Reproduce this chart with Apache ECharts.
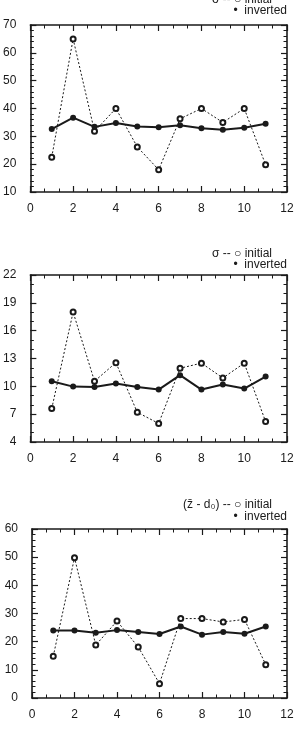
<html>
<head>
    <script src="https://cdnjs.cloudflare.com/ajax/libs/echarts/6.0.0/echarts.min.js"></script>
    <style>
        html, body { margin: 0; padding: 0; background: #fff; }
    </style>
</head>
<body>
    <div id="main" style="width: 298px;height:731px;"></div>
    <script>
        // x positions (index 1..11)
        var xs = [1, 2, 3, 4, 5, 6, 7, 8, 9, 10, 11];

        // panel 1
        var p1Initial = [22.5, 65, 31.8, 40, 26.2, 18, 36.3, 40, 35, 40, 19.8];
        var p1Inverted = [32.6, 36.7, 33.4, 34.8, 33.5, 33.3, 34, 32.9, 32.4, 33.1, 34.5];
        // panel 2 : sigma
        var p2Initial = [7.6, 18, 10.55, 12.55, 7.2, 6, 11.95, 12.5, 10.9, 12.5, 6.2];
        var p2Inverted = [10.55, 9.97, 9.94, 10.3, 9.94, 9.65, 11.2, 9.65, 10.2, 9.76, 11.05];
        // panel 3 : (z - d0)
        var p3Initial = [14.8, 49.8, 18.8, 27.3, 18.1, 5.1, 28.2, 28.2, 27, 27.9, 11.8];
        var p3Inverted = [24, 24, 23.2, 24.1, 23.4, 22.7, 25.4, 22.5, 23.4, 22.8, 25.4];

        var yRanges = [[10, 70, 10, 5], [4, 22, 3, 3], [0, 60, 10, 5]];
        var legendInitial = ['σ -- ○ initial', 'σ -- ○ initial', '(z̄ - d₀) -- ○ initial'];
        var legendInverted = '•  inverted';

        var ink = '#1a1a1a';
        var font = 'Liberation Sans, Arial, sans-serif';

        var grids = [
            { left: 29, top: 25, width: 258, height: 167 },
            { left: 30, top: 275, width: 257, height: 167 },
            { left: 32, top: 529, width: 255, height: 169 }
        ];
        var initialTops = [-6, 248, 499];
        var invertedTops = [5, 259, 511];

        function pairs(arr) {
            return xs.map(function (x, i) { return [x, arr[i]]; });
        }

        var xAxis = [], yAxis = [], series = [], titles = [];
        var dataSets = [[p1Initial, p1Inverted], [p2Initial, p2Inverted], [p3Initial, p3Inverted]];

        grids.forEach(function (g, i) {
            function axis(extra, split) {
                return Object.assign({
                    gridIndex: i,
                    type: 'value',
                    axisLine: { show: true, onZero: false, lineStyle: { color: ink, width: 1.6 } },
                    axisTick: { show: true, inside: true, length: 6, lineStyle: { color: ink, width: 1.2 } },
                    minorTick: { show: true, splitNumber: split, length: 3.5, lineStyle: { color: ink, width: 1 } },
                    splitLine: { show: false }
                }, extra);
            }
            var lbl = { color: ink, fontSize: 12, fontFamily: font };
            xAxis.push(axis({ min: 0, max: 12, interval: 2, position: 'bottom',
                axisLabel: Object.assign({ margin: 11 }, lbl) }, 3));
            xAxis.push(axis({ min: 0, max: 12, interval: 2, position: 'top',
                axisLabel: { show: false } }, 3));
            var r = yRanges[i];
            yAxis.push(axis({ min: r[0], max: r[1], interval: r[2], position: 'left',
                axisLabel: Object.assign({ margin: 14 }, lbl) }, r[3]));
            yAxis.push(axis({ min: r[0], max: r[1], interval: r[2], position: 'right',
                axisLabel: { show: false } }, r[3]));

            series.push({
                type: 'line', xAxisIndex: 2 * i, yAxisIndex: 2 * i,
                data: pairs(dataSets[i][0]),
                symbol: 'emptyCircle', symbolSize: 5,
                lineStyle: { color: ink, width: 1, type: [2, 2] },
                itemStyle: { color: ink, borderWidth: 1 },
                z: 2
            });
            series.push({
                type: 'line', xAxisIndex: 2 * i, yAxisIndex: 2 * i,
                data: pairs(dataSets[i][1]),
                symbol: 'circle', symbolSize: 6,
                lineStyle: { color: ink, width: 2 },
                itemStyle: { color: ink },
                z: 3
            });

            titles.push({
                text: legendInitial[i],
                right: 26, top: initialTops[i], padding: 0,
                textStyle: { color: ink, fontSize: 12, fontWeight: 'normal', fontFamily: font }
            });
            titles.push({
                text: legendInverted,
                right: 11, top: invertedTops[i], padding: 0,
                textStyle: { color: ink, fontSize: 12, fontWeight: 'normal', fontFamily: font }
            });
        });

        var myChart = echarts.init(document.getElementById('main'));
        myChart.setOption({
            animation: false,
            backgroundColor: '#fff',
            title: titles,
            grid: grids,
            xAxis: xAxis,
            yAxis: yAxis,
            series: series
        });
    </script>
</body>
</html>
